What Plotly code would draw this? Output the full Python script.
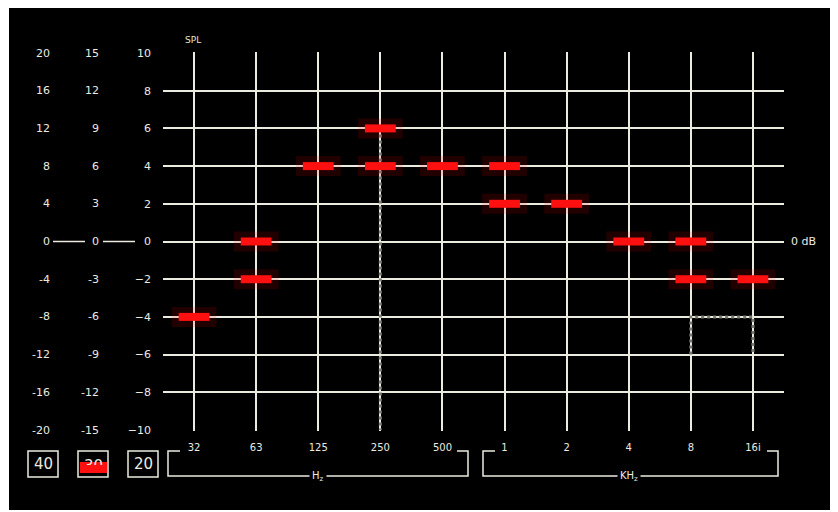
"""
Graphic equalizer display: SPL setting per octave band, drawn with Plotly.
"""

import plotly.graph_objects as go

bands = ["32", "63", "125", "250", "500", "1", "2", "4", "8", "16i"]
marker_bands = ["32", "63", "63", "125", "250", "250", "500", "1", "1", "2",
                "4", "8", "8", "16i"]
marker_levels = [-4, 0, -2, 4, 6, 4, 4, 4, 2, 2, 0, 0, -2, -2]

# scale columns at the left (range 40, 30 and 20 dB)
levels = [10, 8, 6, 4, 2, 0, -2, -4, -6, -8, -10]
scale_40 = [20, 16, 12, 8, 4, 0, -4, -8, -12, -16, -20]
scale_30 = [15, 12, 9, 6, 3, 0, -3, -6, -9, -12, -15]
ranges = ["40", "30", "20"]

# faint stippled traces left on the screen
ghost_x = ["250", "250"]
ghost_y = [6, -10]
ghost_box_x = ["8", "8", "16i", "16i"]
ghost_box_y = [-6, -4, -4, -6]

# the page body has an 8px margin, so the figure is laid out in window
# coordinates and shifted back by OFF
OFF = 8
WIN_W, WIN_H = 838, 512
L, R, T, B = 163, 784, 52, 431   # plot area in window pixels
FG = "#ecebe0"
FONT = "DejaVu Sans"
pad = 20 / (B - T - 2)          # one pixel in y units


def px(x):
    return (x - L) / (R - L)


def py(y):
    return (B - y) / (B - T)


fig = go.Figure()

for gx, gy in [(ghost_x, ghost_y), (ghost_box_x, ghost_box_y)]:
    fig.add_trace(go.Scatter(
        x=gx, y=gy, mode="lines",
        line=dict(color="#7c7c76", width=3, dash="dot"),
        hoverinfo="skip", showlegend=False))

# red glow + bar markers
fig.add_trace(go.Scatter(
    x=marker_bands, y=marker_levels, mode="markers",
    marker=dict(symbol="line-ew", size=32,
                line=dict(color="rgba(255,0,0,0.13)", width=20)),
    hoverinfo="skip", showlegend=False))
fig.add_trace(go.Scatter(
    x=marker_bands, y=marker_levels, mode="markers",
    marker=dict(symbol="line-ew", size=22,
                line=dict(color="#ff1010", width=8)),
    showlegend=False))

shapes = [
    # black screen inside white frame
    dict(type="rect", xref="paper", yref="paper", layer="below",
         x0=px(9), x1=px(833), y0=py(510), y1=py(5),
         fillcolor="black", line=dict(width=0)),
    # 0 --- 0 --- 0 connectors
    dict(type="line", xref="paper", yref="y", x0=px(53), x1=px(85), y0=0, y1=0,
         line=dict(color=FG, width=1.5)),
    dict(type="line", xref="paper", yref="y", x0=px(103), x1=px(135), y0=0, y1=0,
         line=dict(color=FG, width=1.5)),
    # red indicator on the selected range box
    dict(type="rect", xref="paper", yref="paper", layer="above",
         x0=px(80), x1=px(107), y0=py(473), y1=py(462),
         fillcolor="#ff1010", line=dict(width=0)),
]

# Hz / kHz brackets
for x0, x1 in [(168, 468), (483, 778)]:
    pts = [(x0 + 12, 451), (x0, 451), (x0, 476), (x1, 476), (x1, 451), (x1 - 11, 451)]
    path = "M " + " L ".join(f"{px(a):.5f},{py(b):.5f}" for a, b in pts)
    shapes.append(dict(type="path", xref="paper", yref="paper", path=path,
                       line=dict(color=FG, width=1.5)))

# range boxes
for cx in [43, 93, 143]:
    shapes.append(dict(type="rect", xref="paper", yref="paper",
                       x0=px(cx - 15), x1=px(cx + 15), y0=py(477), y1=py(451),
                       line=dict(color=FG, width=1.5)))

annotations = []
for col, vals in [(52, scale_40), (101, scale_30)]:
    for lv, v in zip(levels, vals):
        annotations.append(dict(x=px(col), y=lv, xref="paper", yref="y",
                                text=str(v), showarrow=False,
                                xanchor="right", yanchor="middle",
                                font=dict(family=FONT, size=11, color=FG)))

for cx, t in zip([43, 93, 143], ranges):
    clip = t == "30"   # lower half hidden under the red indicator
    annotations.append(dict(x=px(cx), y=py(455 if clip else 464),
                            xref="paper", yref="paper",
                            text=t, showarrow=False, xanchor="center",
                            yanchor="top" if clip else "middle",
                            height=8 if clip else None,
                            valign="top" if clip else "middle",
                            font=dict(family=FONT, size=15, color=FG)))

annotations += [
    dict(x=px(193), y=py(40), xref="paper", yref="paper", text="SPL",
         xanchor="center", yanchor="middle",
         showarrow=False, font=dict(family=FONT, size=9, color="#e8e6c8")),
    dict(x=px(789), y=0, xref="paper", yref="y", text="0 dB",
         xanchor="left", yanchor="middle",
         showarrow=False, font=dict(family=FONT, size=11, color=FG)),
    dict(x=px(318), y=py(476), xref="paper", yref="paper", text="H<sub>z</sub>",
         xanchor="center", yanchor="middle",
         showarrow=False, bgcolor="black", borderpad=2,
         font=dict(family=FONT, size=10, color=FG)),
    dict(x=px(629), y=py(476), xref="paper", yref="paper", text="KH<sub>z</sub>",
         xanchor="center", yanchor="middle",
         showarrow=False, bgcolor="black", borderpad=2,
         font=dict(family=FONT, size=10, color=FG)),
]

fig.update_layout(
    width=WIN_W - OFF, height=WIN_H - OFF,
    margin=dict(l=L - OFF, r=WIN_W - R, t=T - OFF, b=WIN_H - B),
    paper_bgcolor="white", plot_bgcolor="black",
    shapes=shapes, annotations=annotations,
    xaxis=dict(type="category", categoryorder="array", categoryarray=bands,
               range=[-0.5, 9.5], showgrid=True, gridcolor=FG, gridwidth=2,
               zeroline=False, showline=False, ticks="", ticklabelstandoff=9,
               tickfont=dict(family=FONT, size=10, color=FG), fixedrange=True),
    yaxis=dict(range=[-10 - pad, 10 + pad], tickvals=levels, showgrid=True,
               gridcolor=FG, gridwidth=2, zeroline=False, showline=False,
               ticks="", ticklabelstandoff=11,
               tickfont=dict(family=FONT, size=11, color=FG), fixedrange=True),
)

fig.write_html("out.html")
